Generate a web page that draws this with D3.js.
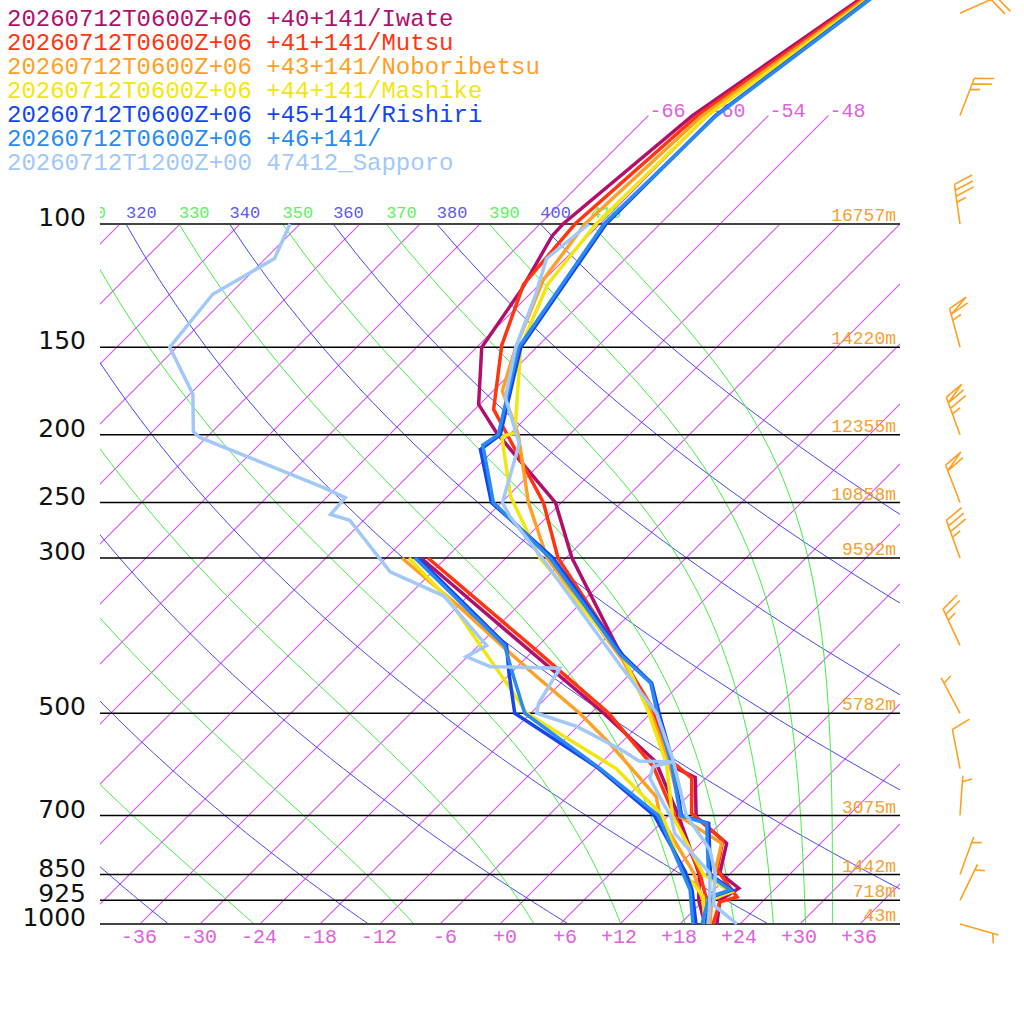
<!DOCTYPE html>
<html>
<head>
<meta charset="utf-8">
<script src="https://cdn.jsdelivr.net/npm/d3@7"></script>
<style>
  body { margin: 0; background: #fff; }
  svg { display: block; }
</style>
</head>
<body>
<svg width="1024" height="1024"></svg>
<script>
// ---- data ----
// standard levels with their heights
const pLevels = [100, 150, 200, 250, 300, 500, 700, 850, 925, 1000];
const pHeights = [16757, 14220, 12355, 10858, 9592, 5782, 3075, 1442, 718, 43];

// isotherm labels (bottom) and the upper ones above 100 hPa
const isoLabels = [-36, -30, -24, -18, -12, -6, 0, 6, 12, 18, 24, 30, 36];
const isoTop = [-66, -60, -54, -48];

// theta (dry, blue) and theta-e (moist, green) lines
const dryThetas = [200, 220, 240, 260, 280, 300, 320, 340, 360, 380, 400];
const moistThetas = [210, 230, 250, 270, 290, 310, 330, 350, 370, 390, 410];

const legendNames = [
  "20260712T0600Z+06 +40+141/Iwate",
  "20260712T0600Z+06 +41+141/Mutsu",
  "20260712T0600Z+06 +43+141/Noboribetsu",
  "20260712T0600Z+06 +44+141/Mashike",
  "20260712T0600Z+06 +45+141/Rishiri",
  "20260712T0600Z+06 +46+141/",
  "20260712T1200Z+00 47412_Sapporo"
];
const colors = ["#b0106c", "#ff3512", "#ffa026", "#f2e610", "#1446f0", "#2a8af0", "#a2c8f8"];

// profiles: [hPa, degC]
const iwateT = [[1000,21.7],[925,19.6],[889,20.3],[846,16.9],[767,14.6],[703,8.9],[618,4.9],[596,1.6],[506,-5.4],[384,-18.1],[300,-29.4],[250,-36.6],[199,-49.4],[181,-54.1],[150,-59.5],[124,-61.3],[104,-63.6],[100,-63.7],[70,-61.6],[50,-57.1],[30,-50.5]];
const iwateTd = [[1000,20.5],[925,17.5],[850,15.0],[700,7.0],[587,-0.6],[500,-10.7],[400,-25.5],[300,-44.5]];
const mutsuT = [[1000,21.3],[930,19.8],[915,21.0],[837,16.3],[759,13.9],[695,8.1],[619,4.6],[577,-0.1],[489,-6.6],[384,-18.4],[300,-30.8],[250,-37.8],[200,-48.2],[184,-52.1],[149,-57.7],[122,-61.6],[100,-62.5],[70,-61.1],[50,-56.8],[30,-50.6]];
const mutsuTd = [[1000,20.8],[925,18.3],[846,14.9],[700,6.6],[596,-0.4],[500,-10.2],[400,-24.8],[300,-43.8]];
const noboT = [[1000,21.0],[925,18.8],[894,19.8],[865,16.9],[767,14.1],[703,7.3],[673,5.9],[590,0.9],[495,-6.4],[420,-14.1],[300,-31.9],[250,-39.3],[200,-47.1],[173,-53.1],[150,-56.1],[120,-60.1],[100,-61.5],[70,-60.6],[50,-56.5],[30,-50.7]];
const noboTd = [[1000,20.6],[925,17.9],[846,14.3],[703,5.3],[658,2.9],[552,-7.1],[500,-13.1],[443,-21.1],[400,-27.7],[350,-36.2],[300,-46.4]];
const mashikeT = [[1000,20.8],[925,18.4],[900,19.9],[850,15.4],[700,6.4],[590,0.6],[495,-6.6],[415,-14.4],[300,-32.6],[245,-41.7],[201,-48.6],[199,-47.6],[150,-55.6],[122,-59.2],[100,-60.4],[70,-60.1],[50,-56.2],[30,-50.9]];
const mashikeTd = [[1000,20.5],[914,17.6],[837,12.8],[700,5.4],[600,-3.9],[500,-18.4],[453,-23.4],[401,-29.7],[345,-37.4],[300,-45.7]];
const rishiriT = [[1000,20.6],[915,18.4],[894,19.8],[850,16.1],[718,10.8],[700,7.3],[590,1.3],[506,-4.7],[453,-8.9],[413,-14.6],[300,-31.3],[250,-43.0],[210,-49.4],[200,-48.9],[150,-55.6],[100,-59.4],[70,-59.3],[50,-56.0],[30,-51.0]];
const rishiriTd = [[1000,19.6],[894,15.8],[842,13.3],[700,4.6],[596,-6.1],[500,-19.6],[438,-24.2],[400,-27.2],[300,-44.8]];
const n46T = [[1000,20.2],[915,18.2],[894,19.6],[850,15.9],[718,10.6],[700,7.2],[590,1.1],[506,-4.9],[453,-9.0],[413,-14.8],[300,-31.6],[250,-42.8],[207,-49.6],[200,-49.1],[150,-55.8],[100,-59.6],[70,-59.2],[50,-55.9],[30,-51.1]];
const n46Td = [[1000,19.3],[894,15.6],[842,13.0],[700,5.0],[600,-5.5],[500,-18.6],[443,-23.4],[400,-27.4],[300,-45.1]];
const sapporoT = [[1000,23.7],[940,19.5],[894,18.0],[850,16.6],[784,13.6],[700,7.8],[583,0.9],[500,-5.4],[429,-13.6],[300,-32.4],[262,-39.7],[250,-41.9],[206,-46.1],[177,-52.1],[150,-56.1],[126,-59.4],[112,-61.9],[100,-61.1]];
const sapporoTd = [[1000,20.8],[940,19.1],[846,15.9],[792,12.1],[742,8.4],[703,6.4],[673,4.3],[619,0.4],[596,-0.4],[587,1.0],[585,-2.4],[565,-5.1],[522,-12.1],[500,-17.4],[484,-18.2],[431,-19.6],[429,-26.7],[415,-30.1],[400,-29.2],[340,-38.4],[314,-46.2],[265,-55.4],[260,-57.9],[246,-58.1],[237,-61.7],[202,-78.6],[198,-79.9],[175,-83.7],[150,-90.7],[126,-91.7],[112,-89.1],[100,-91.0]];

const tempProfiles = [iwateT, mutsuT, noboT, mashikeT, rishiriT, n46T, sapporoT];
const dewProfiles = [iwateTd, mutsuTd, noboTd, mashikeTd, rishiriTd, n46Td, sapporoTd];

// wind (knots)
const windP = [50, 70, 100, 150, 200, 250, 300, 400, 500, 600, 700, 850, 925, 1000];
const windDir = [66, 21, 352, 345, 340, 339, 340, 335, 332, 349, 4, 20, 26, 106];
const windSpd = [20, 25, 35, 65, 75, 60, 35, 25, 5, 10, 5, 5, 5, 5];

// ---- scales ----
const y = d3.scaleLog().domain([1000, 100]).range([924, 224]);
const xT = d3.scaleLinear().domain([-40, 40]).range([100, 900]);
const skewX = (t, p) => xT(t) + (y(1000) - y(p));

const svg = d3.select("svg");
const mono = "'Liberation Mono', 'DejaVu Sans Mono', monospace";
const curve = d3.line().x(d => d[0]).y(d => d[1]);

svg.append("defs").append("clipPath").attr("id", "plot-clip")
  .append("rect").attr("x", 100).attr("y", 0).attr("width", 800).attr("height", 925);

const bg = svg.append("g").attr("clip-path", "url(#plot-clip)");

// isotherms as thin filled strips between two pressures
const isoStrip = (t, p1, p2) => {
  const w = 0.75;
  const a = [skewX(t, p1), y(p1)], b = [skewX(t, p2), y(p2)];
  return `M${a[0] - w},${a[1]}L${b[0] - w},${b[1]}L${b[0] + w},${b[1]}L${a[0] + w},${a[1]}Z`;
};
const isoColor = "#dc50ee";
const isotherms = d3.range(-108, 37, 6);
bg.selectAll(".iso")
  .data(isotherms)
  .enter().append("path")
  .attr("class", "iso")
  .attr("d", t => isoStrip(t, 1000, 100))
  .attr("fill", isoColor).attr("stroke", "none");

bg.selectAll(".iso-top")
  .data(isoTop)
  .enter().append("path")
  .attr("class", "iso-top")
  .attr("d", t => isoStrip(t, 100, 70))
  .attr("fill", isoColor).attr("stroke", "none");

// pressures for the adiabat curves
const curveP = d3.range(1000, 99, -10);

// dry adiabats
const kappa = 0.2857;
const dryT = (theta, p) => theta * Math.pow(p / 1000, kappa) - 273.15;

bg.selectAll(".dry")
  .data(dryThetas)
  .enter().append("path")
  .attr("class", "dry")
  .attr("d", th => curve(curveP.map(p => [skewX(dryT(th, p), p), y(p)])))
  .attr("fill", "none").attr("stroke", "#4848f0").attr("stroke-width", 1);

// moist adiabats (Bolton theta-e, solved for saturated T)
function thetaE(tc, p) {
  const tk = tc + 273.15;
  const es = 6.112 * Math.exp(17.67 * tc / (tc + 243.5));
  if (es > 0.8 * p) return 1e6;
  const r = 622 * es / (p - es);
  return tk * Math.pow(1000 / p, 0.2854 * (1 - 0.00028 * r)) *
    Math.exp((3.376 / tk - 0.00254) * r * (1 + 0.00081 * r));
}
function moistT(the, p) {
  let lo = -140, hi = 50;
  for (let i = 0; i < 50; i++) {
    const mid = (lo + hi) / 2;
    if (thetaE(mid, p) > the) hi = mid; else lo = mid;
  }
  return (lo + hi) / 2;
}

bg.selectAll(".moist")
  .data(moistThetas)
  .enter().append("path")
  .attr("class", "moist")
  .attr("d", th => curve(curveP.map(p => [skewX(moistT(th, p), p), y(p)])))
  .attr("fill", "none").attr("stroke", "#40ee40").attr("stroke-width", 1);

// theta labels at 100 hPa
const thetaLabels = d3.range(300, 411, 10);
bg.selectAll(".th-label")
  .data(thetaLabels)
  .enter().append("text")
  .attr("class", "th-label")
  .attr("x", th => (th % 20 === 0) ? skewX(dryT(th, 100), 100) : skewX(moistT(th, 100), 100))
  .attr("y", 218)
  .attr("font-family", mono).attr("font-size", 17)
  .attr("fill", th => (th % 20 === 0) ? "#5a5af2" : "#5ef05e")
  .text(th => th);

// isotherm labels
svg.selectAll(".iso-label")
  .data(isoLabels)
  .enter().append("text")
  .attr("class", "iso-label")
  .attr("x", t => xT(t) + 17)
  .attr("y", 943)
  .attr("text-anchor", "end")
  .attr("font-family", mono).attr("font-size", 20)
  .attr("fill", "#e060e0")
  .text(t => (t >= 0 ? "+" : "-") + Math.abs(t));

svg.selectAll(".iso-top-label")
  .data(isoTop)
  .enter().append("text")
  .attr("class", "iso-top-label")
  .attr("x", t => skewX(t, 70) + 1)
  .attr("y", y(70) + 1)
  .attr("font-family", mono).attr("font-size", 20)
  .attr("fill", "#e060e0")
  .text(t => "-" + Math.abs(t));

// pressure lines
svg.selectAll(".plev")
  .data(pLevels)
  .enter().append("path")
  .attr("class", "plev")
  .attr("d", p => curve([[100, y(p)], [900, y(p)]]))
  .attr("fill", "none")
  .attr("stroke", p => (p === 100 || p === 1000) ? "#444" : "#000")
  .attr("stroke-width", p => (p === 100 || p === 1000) ? 2 : 1.5);

svg.selectAll(".plabel")
  .data(pLevels)
  .enter().append("text")
  .attr("class", "plabel")
  .attr("x", 86).attr("y", p => y(p) + 2)
  .attr("text-anchor", "end")
  .attr("font-family", "'DejaVu Sans', sans-serif").attr("font-size", 25)
  .attr("fill", "#111")
  .text(p => p);

svg.selectAll(".hlabel")
  .data(pLevels)
  .enter().append("text")
  .attr("class", "hlabel")
  .attr("x", 896).attr("y", p => y(p) - 3)
  .attr("text-anchor", "end")
  .attr("font-family", mono).attr("font-size", 18)
  .attr("fill", "#f5a030")
  .text((p, i) => pHeights[i] + "m");

// profiles
const profLine = d3.line().x(d => skewX(d[1], d[0])).y(d => y(d[0]));
const prof = svg.append("g");
tempProfiles.forEach((t, i) => {
  prof.append("path").attr("d", profLine(dewProfiles[i]))
    .attr("fill", "none").attr("stroke", colors[i]).attr("stroke-width", 3.5);
  prof.append("path").attr("d", profLine(t))
    .attr("fill", "none").attr("stroke", colors[i]).attr("stroke-width", 3.5);
});

// wind barbs
const barbs = svg.append("g")
  .attr("stroke", "#ffa020").attr("stroke-width", 1.6).attr("fill", "none");
function barbPath(x0, y0, dir, spd) {
  const a = dir * Math.PI / 180, b = (dir + 70) * Math.PI / 180;
  const ux = Math.sin(a), uy = -Math.cos(a);
  const fx = Math.sin(b), fy = -Math.cos(b);
  const L = 40, F = 20, step = 6;
  const pt = s => [x0 + ux * s, y0 + uy * s];
  let d = `M${x0},${y0}L${pt(L)}`;
  let s = Math.round(spd / 5) * 5;
  const n50 = Math.floor(s / 50); s -= n50 * 50;
  const n10 = Math.floor(s / 10); s -= n10 * 10;
  const n5 = s >= 5 ? 1 : 0;
  let pos = (n50 === 0 && n10 === 0) ? L - step : L;
  for (let k = 0; k < n50; k++) {
    const p0 = pt(pos), p1 = pt(pos - step);
    d += `M${p0}L${p0[0] + fx * F},${p0[1] + fy * F}L${p1}`;
    pos -= step;
  }
  for (let k = 0; k < n10; k++) {
    const p0 = pt(pos);
    d += `M${p0}L${p0[0] + fx * F},${p0[1] + fy * F}`;
    pos -= step;
  }
  if (n5) {
    const p0 = pt(pos);
    d += `M${p0}L${p0[0] + fx * F / 2},${p0[1] + fy * F / 2}`;
  }
  return d;
}
barbs.selectAll(".barb")
  .data(windP)
  .enter().append("path")
  .attr("class", "barb")
  .attr("d", (p, i) => barbPath(960, y(p), windDir[i], windSpd[i]));

// legend
svg.selectAll(".legend")
  .data(legendNames)
  .enter().append("text")
  .attr("class", "legend")
  .attr("x", 7).attr("y", (d, i) => 26 + i * 24)
  .attr("font-family", mono).attr("font-size", 24)
  .attr("fill", (d, i) => colors[i])
  .text(d => d);
</script>
</body>
</html>
